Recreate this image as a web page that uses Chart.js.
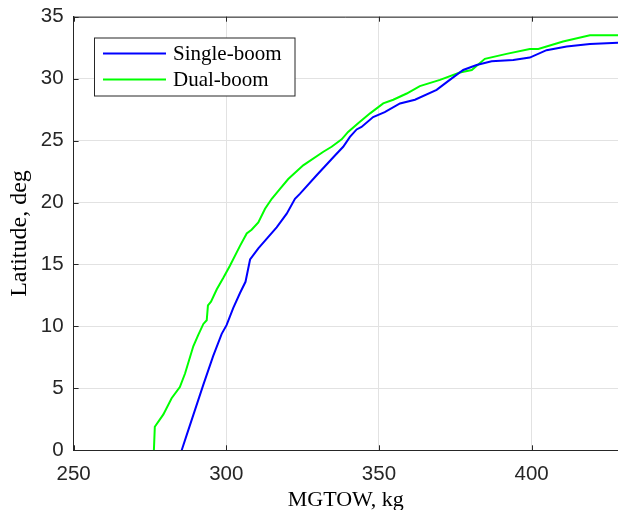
<!DOCTYPE html>
<html>
<head>
<meta charset="utf-8">
<script src="https://cdn.jsdelivr.net/npm/chart.js@4/dist/chart.umd.min.js"></script>
<style>
  html, body { margin: 0; padding: 0; background: #fff; }
  #wrap { width: 618px; height: 510px; }
</style>
</head>
<body>
<div id="wrap"><canvas id="grafico" width="618" height="510"></canvas></div>
<script>
// valores
const singleX = [285.4, 287.0, 292.5, 295.7, 298.5, 300.1, 302.3, 304.5, 306.3, 307.8, 310.5, 316.5, 319.8, 322.5, 324.1, 329.6, 335.6, 338.3, 340.5, 342.7, 344.3, 348.1, 351.9, 356.9, 361.8, 368.9, 373.2, 377.6, 382.0, 386.9, 394.0, 399.4, 404.9, 411.5, 419.1, 428.3];
const singleY = [0, 1.2, 5.3, 7.6, 9.4, 10.1, 11.5, 12.7, 13.6, 15.4, 16.3, 18.0, 19.1, 20.3, 20.7, 22.2, 23.8, 24.5, 25.3, 25.9, 26.1, 26.9, 27.3, 28.0, 28.3, 29.1, 29.9, 30.7, 31.1, 31.4, 31.5, 31.7, 32.3, 32.6, 32.8, 32.9];

const dualX = [276.3, 276.6, 279.4, 282.1, 284.8, 286.5, 289.2, 290.8, 292.5, 293.6, 294.0, 295.0, 296.9, 299.0, 301.2, 304.5, 306.7, 308.3, 310.5, 312.7, 314.9, 317.6, 320.3, 325.2, 331.8, 334.5, 337.8, 339.9, 343.2, 347.1, 351.4, 354.7, 359.1, 363.4, 370.0, 376.5, 380.4, 384.7, 391.8, 399.4, 402.2, 410.3, 419.1, 428.3];
const dualY = [0, 1.9, 2.9, 4.2, 5.1, 6.2, 8.4, 9.3, 10.2, 10.5, 11.7, 12.0, 13.0, 13.9, 14.9, 16.5, 17.5, 17.8, 18.4, 19.5, 20.3, 21.1, 21.9, 23.0, 24.1, 24.5, 25.1, 25.7, 26.4, 27.2, 28.0, 28.3, 28.8, 29.4, 29.9, 30.5, 30.7, 31.6, 32.0, 32.4, 32.4, 33.0, 33.5, 33.5];

const seriesNames = ["Single-boom", "Dual-boom"];
const xTicks = [250, 300, 350, 400];
const yTicks = [0, 5, 10, 15, 20, 25, 30, 35];
const xMin = 250, xMax = 428.3;
const yMin = 0, yMax = 35;

const corEixo = "#262626";
const corGrade = "#e2e2e2";

function pontos(xs, ys) {
    return xs.map((x, i) => ({ x: x, y: ys[i] }));
}

// ticks para dentro, linha de cima e legenda estilo MATLAB
const estiloMatlab = {
    id: "estiloMatlab",
    afterDraw(chart) {
        const ctx = chart.ctx;
        const a = chart.chartArea;
        const sx = chart.scales.x;
        const sy = chart.scales.y;

        ctx.save();
        ctx.strokeStyle = corEixo;
        ctx.lineWidth = 1;
        ctx.beginPath();
        ctx.moveTo(a.left, a.top + 0.5);
        ctx.lineTo(a.right, a.top + 0.5);
        xTicks.forEach(v => {
            const px = Math.round(sx.getPixelForValue(v)) + 0.5;
            ctx.moveTo(px, a.bottom);
            ctx.lineTo(px, a.bottom - 5);
            ctx.moveTo(px, a.top);
            ctx.lineTo(px, a.top + 5);
        });
        yTicks.forEach(v => {
            const py = Math.round(sy.getPixelForValue(v)) + 0.5;
            ctx.moveTo(a.left, py);
            ctx.lineTo(a.left + 5, py);
        });
        ctx.stroke();

        // legenda
        const bx = 94.5, by = 38, bw = 200.5, bh = 58;
        ctx.fillStyle = "#fff";
        ctx.fillRect(bx, by, bw, bh);
        ctx.strokeStyle = corEixo;
        ctx.strokeRect(bx, by, bw, bh);
        chart.data.datasets.forEach((ds, i) => {
            const ly = by + 15.5 + i * 26;
            ctx.strokeStyle = ds.borderColor;
            ctx.lineWidth = 2;
            ctx.beginPath();
            ctx.moveTo(103, ly);
            ctx.lineTo(166, ly);
            ctx.stroke();
            ctx.fillStyle = "#000";
            ctx.font = "21px 'Liberation Serif', 'Times New Roman', serif";
            ctx.textBaseline = "middle";
            ctx.textAlign = "left";
            ctx.fillText(ds.label, 173, ly + 1);
        });
        ctx.restore();
    }
};

const fonteTicks = { family: "'Liberation Sans', Arial, Helvetica, sans-serif", size: 20.5 };

new Chart(document.getElementById("grafico"), {
    type: "scatter",
    data: {
        datasets: [
            {
                label: seriesNames[0],
                data: pontos(singleX, singleY),
                borderColor: "#0000ff",
                backgroundColor: "#0000ff",
                showLine: true,
                borderWidth: 2,
                pointRadius: 0,
                tension: 0
            },
            {
                label: seriesNames[1],
                data: pontos(dualX, dualY),
                borderColor: "#00ff00",
                backgroundColor: "#00ff00",
                showLine: true,
                borderWidth: 2,
                pointRadius: 0,
                tension: 0
            }
        ]
    },
    options: {
        responsive: false,
        animation: false,
        devicePixelRatio: 1,
        layout: { padding: { top: 16.7, right: 0, left: 0, bottom: 0 } },
        plugins: {
            legend: { display: false },
            tooltip: { enabled: false }
        },
        scales: {
            x: {
                type: "linear",
                min: xMin,
                max: xMax,
                afterBuildTicks: s => { s.ticks = xTicks.map(v => ({ value: v })); },
                afterFit: s => { s.height = 59.7; s.paddingLeft = 0; s.paddingRight = 0; },
                grid: { color: corGrade, drawTicks: false },
                border: { color: corEixo, width: 1 },
                ticks: { color: corEixo, font: fonteTicks, padding: 12, maxRotation: 0 },
                title: {
                    display: true,
                    text: "MGTOW, kg",
                    color: "#000",
                    font: { family: "'Liberation Serif', 'Times New Roman', serif", size: 22, lineHeight: 0.9 },
                    padding: 0
                }
            },
            y: {
                type: "linear",
                min: yMin,
                max: yMax,
                afterBuildTicks: s => { s.ticks = yTicks.map(v => ({ value: v })); },
                afterFit: s => { s.width = 73.6; s.paddingTop = 0; s.paddingBottom = 0; },
                grid: { color: corGrade, drawTicks: false },
                border: { color: corEixo, width: 1 },
                ticks: { color: corEixo, font: fonteTicks, padding: 10 },
                title: {
                    display: true,
                    text: "Latitude, deg",
                    color: "#000",
                    font: { family: "'Liberation Serif', 'Times New Roman', serif", size: 24 },
                    padding: { top: 5, bottom: 0 }
                }
            }
        }
    },
    plugins: [estiloMatlab]
});
</script>
</body>
</html>
